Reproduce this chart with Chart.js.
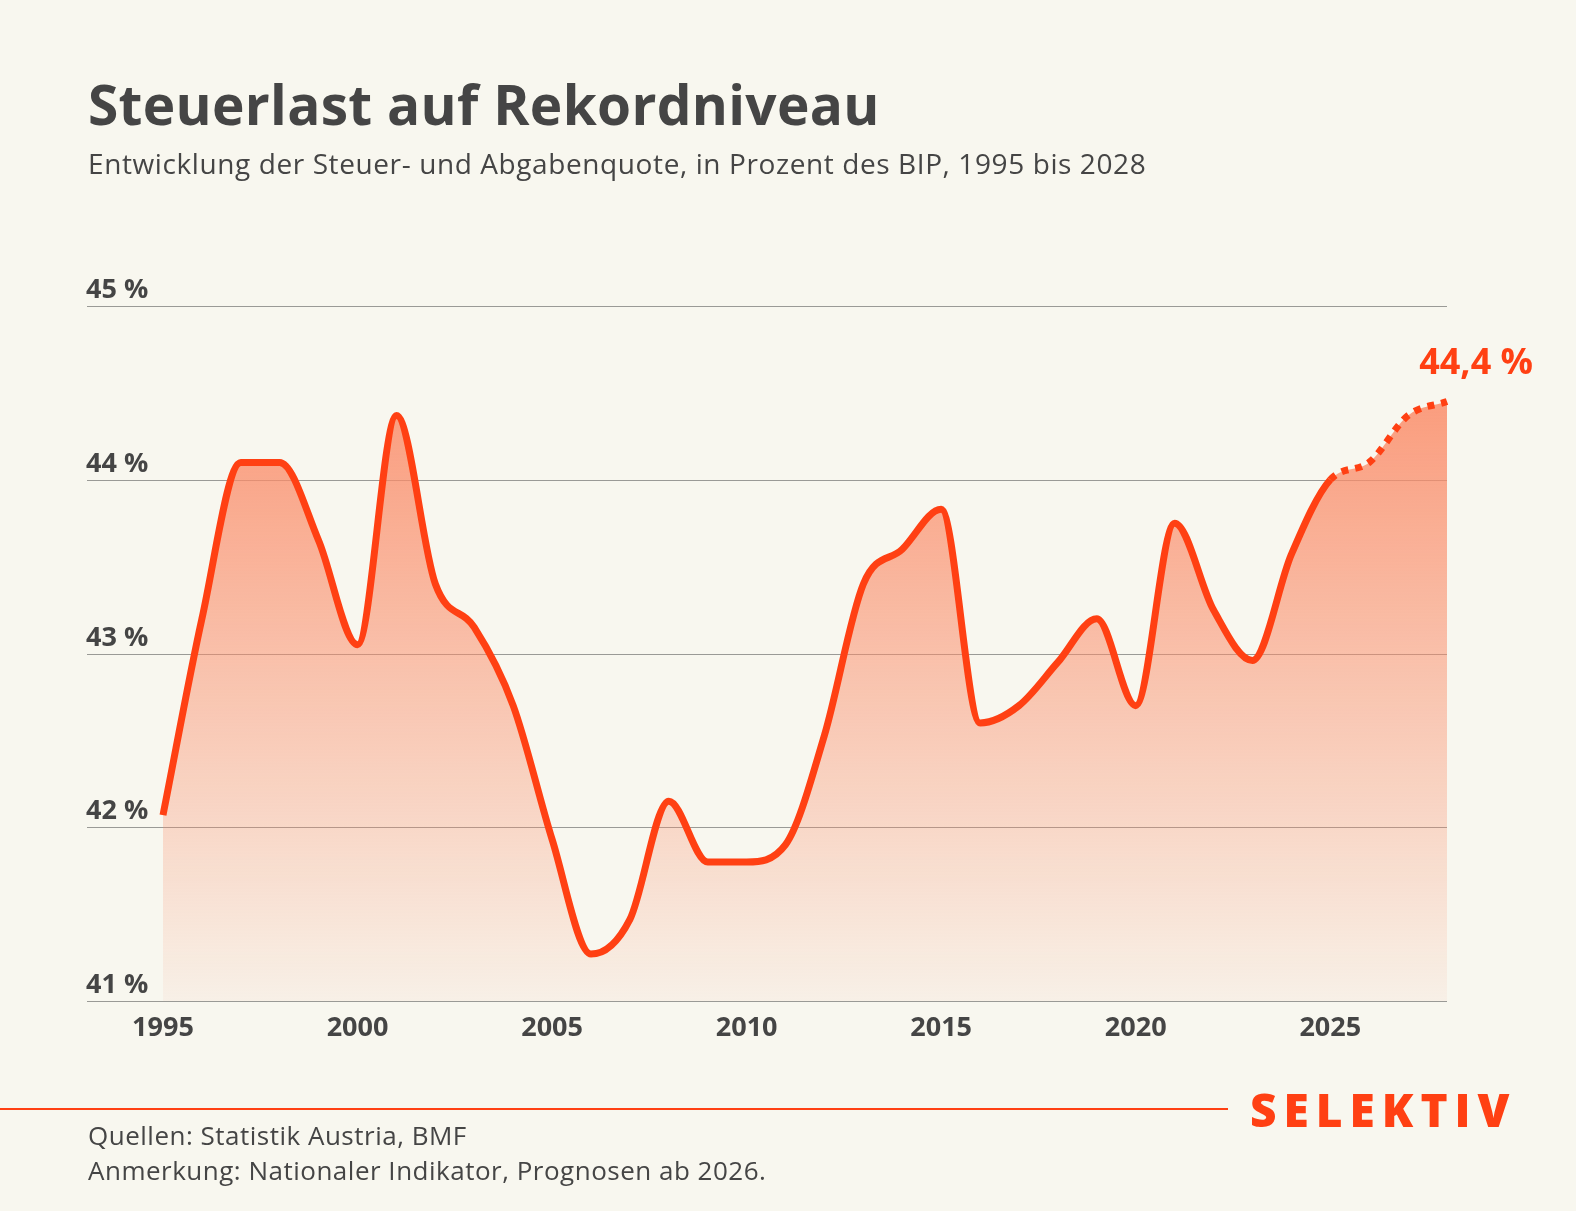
<!DOCTYPE html>
<html><head><meta charset="utf-8">
<script src="https://cdn.jsdelivr.net/npm/chart.js@4"></script>
<style>
  html,body{margin:0;padding:0;background:#f8f7ef;}
  body{width:1576px;height:1211px;position:relative;overflow:hidden;font-family:"Open Sans",sans-serif;color:#454545;}
  #c{position:absolute;left:0;top:0;}
  .t{position:absolute;left:88px;white-space:nowrap;}
  #title{top:66px;font-size:55px;font-weight:700;letter-spacing:0.3px;}
  #sub{top:144px;font-size:28px;letter-spacing:0.6px;}
  #src{top:1117px;font-size:26px;letter-spacing:0.5px;}
  #note{top:1152px;font-size:26px;letter-spacing:0.5px;}
  #rule{position:absolute;left:0;top:1108px;width:1228px;height:2px;background:#ff4013;}
  #brand{position:absolute;left:1250px;top:1078px;font-size:46px;font-weight:800;color:#ff4013;letter-spacing:7px;}
</style></head><body>
<canvas id="c" width="1576" height="1211"></canvas>
<div class="t" id="title">Steuerlast auf Rekordniveau</div>
<div class="t" id="sub">Entwicklung der Steuer- und Abgabenquote, in Prozent des BIP, 1995 bis 2028</div>
<div id="rule"></div>
<div id="brand">SELEKTIV</div>
<div class="t" id="src">Quellen: Statistik Austria, BMF</div>
<div class="t" id="note">Anmerkung: Nationaler Indikator, Prognosen ab 2026.</div>
<script>
const years = [];
for (let y = 1995; y <= 2028; y++) years.push(y);
const quote = [42.07,43.2,44.1,44.1,43.65,43.05,44.37,43.4,43.15,42.7,41.93,41.27,41.47,42.15,41.8,41.8,41.9,42.53,43.4,43.6,43.83,42.6,42.7,42.95,43.2,42.7,43.75,43.25,42.96,43.57,44.0,44.1,44.37,44.45];
const yTicks = [41,42,43,44,45];
const xTicks = [1995,2000,2005,2010,2015,2020,2025];
const forecastFrom = 2025;
const lastLabel = '44,4 %';
const ORANGE = '#ff4013';

const labelsPlugin = {
  id:'labels',
  beforeDatasetsDraw(chart){
    const {ctx, scales:{x,y}} = chart;
    ctx.save();
    ctx.strokeStyle = '#9a9a96'; ctx.lineWidth = 1;
    ctx.fillStyle = '#454545';
    ctx.font = '700 27px "Open Sans"';
    yTicks.forEach(v => {
      const py = Math.round(y.getPixelForValue(v)) + 0.5;
      ctx.beginPath(); ctx.moveTo(87, py); ctx.lineTo(1447, py); ctx.stroke();
      ctx.textAlign = 'left';
      ctx.fillText(v + ' %', 86, py - 9);
    });
    ctx.textAlign = 'center';
    xTicks.forEach(v => ctx.fillText(v, x.getPixelForValue(v), 1036));
    ctx.restore();
  },
  afterDatasetsDraw(chart){
    const {ctx, scales:{y}} = chart;
    ctx.save();
    ctx.fillStyle = ORANGE; ctx.font = '700 36px "Open Sans"'; ctx.textAlign = 'right';
    ctx.fillText(lastLabel, 1533, y.getPixelForValue(quote[quote.length-1]) - 28);
    ctx.restore();
  }
};

const points = years.map((yr,i) => ({x:yr, y:quote[i]}));
const ctx = document.getElementById('c').getContext('2d');
new Chart(ctx, {
  type:'line',
  data:{ datasets:[{
    data: points,
    borderColor: ORANGE, borderWidth: 7, pointRadius: 0,
    cubicInterpolationMode:'monotone',
    segment:{ borderDash: s => s.p0.parsed.x >= forecastFrom ? [7,7] : undefined },
    clip:false, order:0
  },{
    data: points,
    borderWidth: 0, pointRadius: 0,
    cubicInterpolationMode:'monotone',
    fill:{target:{value:41}},
    backgroundColor: c => {
      const a = c.chart.chartArea;
      if (!a) return 'rgba(255,100,60,0.5)';
      const g = c.chart.ctx.createLinearGradient(0, 400, 0, a.bottom);
      g.addColorStop(0, 'rgba(250,140,105,0.85)');
      g.addColorStop(1, 'rgba(250,140,105,0.06)');
      return g;
    },
    order:1
  }]},
  plugins:[labelsPlugin],
  options:{
    responsive:false, animation:false,
    layout:{padding:{left:163,right:129,top:306,bottom:210}},
    plugins:{legend:{display:false}, tooltip:{enabled:false}},
    scales:{
      x:{type:'linear', min:1995, max:2028, display:false},
      y:{min:41, max:45, display:false}
    }
  }
});
</script>
</body></html>
